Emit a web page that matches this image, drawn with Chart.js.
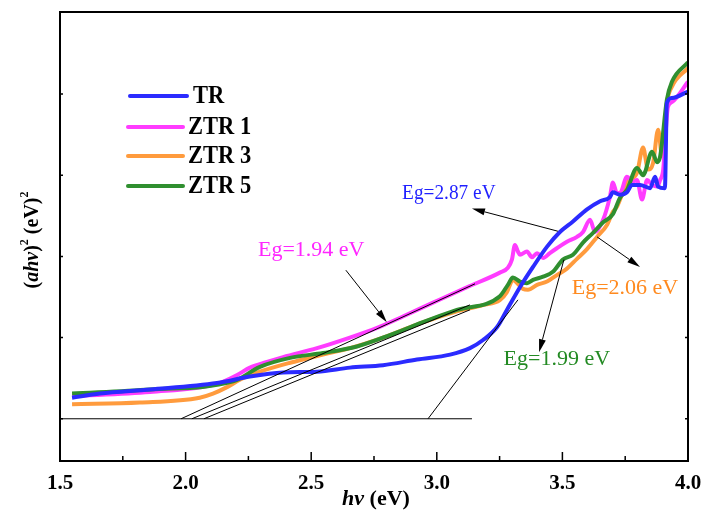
<!DOCTYPE html>
<html><head><meta charset="utf-8">
<script src="https://cdn.jsdelivr.net/npm/chart.js@4.4.1/dist/chart.umd.min.js"></script>
<style>html,body{margin:0;padding:0;background:#fff}</style>
</head><body>
<canvas id="c" width="704" height="511"></canvas>
<script>
// ---------- data (hv in eV, (ahv)^2 in arbitrary units) ----------
const seriesNames = ['TR', 'ZTR 1', 'ZTR 3', 'ZTR 5'];

const trE = [1.548,1.659,1.858,2.125,2.256,2.388,2.523,2.654,2.786,2.921,3.053,3.132,3.184,3.240,3.279,3.331,3.383,3.439,3.490,3.542,3.598,3.650,3.689,3.701,3.729,3.757,3.777,3.809,3.849,3.869,3.881,3.908,3.916,3.936,4.000];
const trV = [0.26,0.31,0.36,0.44,0.52,0.57,0.58,0.63,0.66,0.73,0.79,0.87,0.97,1.13,1.34,1.62,1.87,2.12,2.30,2.43,2.58,2.68,2.73,2.79,2.76,2.79,2.88,2.88,2.84,2.98,2.86,2.84,3.89,3.95,4.03];

const ztr1E = [1.548,1.858,2.125,2.205,2.256,2.324,2.388,2.523,2.654,2.762,2.865,2.985,3.120,3.251,3.283,3.299,3.311,3.323,3.331,3.359,3.379,3.399,3.423,3.450,3.478,3.518,3.558,3.582,3.610,3.630,3.662,3.689,3.701,3.717,3.729,3.757,3.781,3.797,3.817,3.837,3.857,3.877,3.889,3.901,3.920,3.936,4.000];
const ztr1V = [0.28,0.33,0.43,0.54,0.63,0.70,0.76,0.87,1.00,1.12,1.26,1.43,1.62,1.80,1.86,1.96,2.14,2.06,2.02,2.06,1.99,2.04,1.98,2.04,2.10,2.18,2.24,2.30,2.45,2.30,2.45,2.73,2.91,2.78,2.78,2.98,2.92,2.94,2.70,2.94,2.88,2.86,2.94,3.06,3.84,3.90,4.15];

const ztr3E = [1.548,1.818,2.056,2.109,2.165,2.216,2.296,2.416,2.547,2.654,2.786,2.921,3.053,3.184,3.251,3.279,3.303,3.323,3.343,3.363,3.399,3.439,3.478,3.518,3.558,3.598,3.638,3.678,3.701,3.717,3.757,3.797,3.821,3.841,3.861,3.881,3.897,3.916,3.936,4.000];
const ztr3V = [0.18,0.20,0.26,0.31,0.39,0.48,0.58,0.69,0.79,0.87,1.00,1.16,1.30,1.40,1.46,1.56,1.71,1.66,1.60,1.59,1.65,1.69,1.77,1.85,1.97,2.09,2.24,2.39,2.55,2.61,2.91,3.03,3.34,3.07,3.15,3.56,3.23,3.89,4.09,4.32];

const ztr5E = [1.548,1.858,2.189,2.296,2.416,2.547,2.682,2.813,2.945,3.080,3.251,3.283,3.303,3.331,3.359,3.383,3.423,3.462,3.502,3.542,3.582,3.622,3.662,3.701,3.729,3.757,3.797,3.821,3.857,3.877,3.889,3.916,3.936,4.000];
const ztr5V = [0.31,0.36,0.46,0.64,0.75,0.81,0.89,1.03,1.19,1.34,1.51,1.65,1.74,1.69,1.67,1.71,1.75,1.81,1.96,2.02,2.17,2.29,2.42,2.52,2.72,2.82,3.09,3.00,3.29,3.16,3.23,3.93,4.15,4.39];

// tangent (extrapolation) lines: [start, end] as [hv, value]
const baseLine = [[1.5, 0], [3.140, 0]];
const tanTR    = [[2.965, 0], [3.323, 1.465]];
const tanZTR1  = [[1.982, 0], [3.152, 1.662]];
const tanZTR5  = [[2.025, 0], [3.132, 1.403]];
const tanZTR3  = [[2.073, 0], [3.132, 1.342]];

// band-gap labels and their arrows ([hv, value] from -> to)
const egLabels = ['Eg=2.87 eV', 'Eg=1.94 eV', 'Eg=2.06 eV', 'Eg=1.99 eV'];
const egLabelAt = [[3.048, 2.78], [2.500, 2.08], [3.749, 1.61], [3.478, 0.73]];
const egArrowFrom = [[3.482, 2.31], [2.638, 1.83], [3.638, 2.24], [3.506, 1.96]];
const egArrowTo   = [[3.140, 2.59], [2.801, 1.19], [3.809, 1.87], [3.407, 0.82]];

// axis ticks
const xMajorTicks = [1.5, 2.0, 2.5, 3.0, 3.5, 4.0];
const xMinorTicks = [1.75, 2.25, 2.75, 3.25, 3.75];
const yTicks = [0, 1, 2, 3, 4];

// ---------- styles ----------
const lineColors = ['#2b2bff', '#ff3cff', '#ff9b3d', '#2f8f2f'];
const textColors = ['#1f1fff', '#ff26ff', '#ff8a1f', '#238a23'];
const labelFont = [[21, 0.92], [22, 1.0], [22, 1.0], [22, 1.0]];
const SERIF = '"Liberation Serif", "Times New Roman", serif';

const pts = (E, V) => E.map((e, i) => ({x: e, y: V[i]}));
const seg = (s) => s.map(p => ({x: p[0], y: p[1]}));

const curve = (i, E, V, order) => ({
  label: seriesNames[i], data: pts(E, V), borderColor: lineColors[i],
  borderWidth: 4, pointRadius: 0, tension: 0, borderJoinStyle: 'round',
  cubicInterpolationMode: 'monotone', order: order
});
const thin = (s) => ({
  label: '', data: seg(s), borderColor: '#000', borderWidth: 1,
  pointRadius: 0, tension: 0, order: -1
});

const decor = {
  id: 'decor',
  afterDatasetsDraw(chart) {
    const {ctx, chartArea: a, scales: {x, y}} = chart;
    const px = v => x.getPixelForValue(v), py = v => y.getPixelForValue(v);
    ctx.save();
    // arrows
    ctx.strokeStyle = '#000'; ctx.fillStyle = '#000'; ctx.lineWidth = 1;
    for (let i = 0; i < egArrowFrom.length; i++) {
      const x1 = px(egArrowFrom[i][0]), y1 = py(egArrowFrom[i][1]);
      const x2 = px(egArrowTo[i][0]), y2 = py(egArrowTo[i][1]);
      const ang = Math.atan2(y2 - y1, x2 - x1), L = 13, W = 3.5;
      const bx = x2 - L * Math.cos(ang), by = y2 - L * Math.sin(ang);
      ctx.beginPath(); ctx.moveTo(x1, y1); ctx.lineTo(bx, by); ctx.stroke();
      ctx.beginPath(); ctx.moveTo(x2, y2);
      ctx.lineTo(bx + W * Math.sin(ang), by - W * Math.cos(ang));
      ctx.lineTo(bx - W * Math.sin(ang), by + W * Math.cos(ang));
      ctx.closePath(); ctx.fill();
    }
    // Eg labels
    ctx.textAlign = 'center'; ctx.textBaseline = 'middle';
    [0, 1, 2, 3].forEach(i => {
      ctx.fillStyle = textColors[i];
      ctx.font = labelFont[i][0] + 'px ' + SERIF;
      ctx.save();
      ctx.translate(px(egLabelAt[i][0]), py(egLabelAt[i][1]));
      ctx.scale(labelFont[i][1], 1);
      ctx.fillText(egLabels[i], 0, 0);
      ctx.restore();
    });
    // frame
    ctx.strokeStyle = '#000'; ctx.lineWidth = 2;
    ctx.strokeRect(a.left, a.top, a.right - a.left, a.bottom - a.top);
    ctx.lineWidth = 1.5;
    ctx.beginPath();
    xMajorTicks.forEach(v => { const X = px(v); ctx.moveTo(X, a.bottom); ctx.lineTo(X, a.bottom - 9); });
    xMinorTicks.forEach(v => { const X = px(v); ctx.moveTo(X, a.bottom); ctx.lineTo(X, a.bottom - 5); });
    yTicks.forEach(v => { const Y = py(v);
      ctx.moveTo(a.left, Y); ctx.lineTo(a.left + 3, Y);
      ctx.moveTo(a.right, Y); ctx.lineTo(a.right - 3, Y); });
    ctx.stroke();
    // legend
    const legY = [96, 127, 156, 186];
    ctx.lineCap = 'round'; ctx.lineWidth = 4;
    ctx.textAlign = 'left'; ctx.textBaseline = 'middle';
    seriesNames.forEach((n, i) => {
      const x0 = i === 0 ? 130 : 128, x1 = i === 0 ? 187 : 183;
      ctx.strokeStyle = lineColors[i];
      ctx.beginPath(); ctx.moveTo(x0, legY[i]); ctx.lineTo(x1, legY[i]); ctx.stroke();
      ctx.fillStyle = '#000'; ctx.font = 'bold 25px ' + SERIF;
      ctx.save(); ctx.translate(i === 0 ? 193 : 188, legY[i] + 1); ctx.scale(0.9, 1);
      ctx.fillText(n, 0, 0); ctx.restore();
    });
    // x title
    ctx.fillStyle = '#000'; ctx.textBaseline = 'middle';
    const xParts = [['hv', 'italic bold 22px '], [' (eV)', 'bold 22px ']];
    let tw = 0; xParts.forEach(p => { ctx.font = p[1] + SERIF; tw += ctx.measureText(p[0]).width; });
    let cx = (a.left + a.right) / 2 - tw / 2 + 2;
    xParts.forEach(p => { ctx.font = p[1] + SERIF; ctx.fillText(p[0], cx, 499); cx += ctx.measureText(p[0]).width; });
    // y title (rotated)
    ctx.save();
    ctx.translate(33, 240); ctx.rotate(-Math.PI / 2);
    const yParts = [['(', 'bold 20px ', 0], ['ahv', 'italic bold 20px ', 0], [')', 'bold 20px ', 0],
                    ['2', 'bold 12px ', -8], [' (eV)', 'bold 20px ', 0], ['2', 'bold 12px ', -8]];
    tw = 0; yParts.forEach(p => { ctx.font = p[1] + SERIF; tw += ctx.measureText(p[0]).width; });
    cx = -tw / 2;
    yParts.forEach(p => { ctx.font = p[1] + SERIF; ctx.fillText(p[0], cx, p[2]); cx += ctx.measureText(p[0]).width; });
    ctx.restore();
    ctx.restore();
  }
};

new Chart(document.getElementById('c'), {
  type: 'line',
  data: {
    datasets: [
      curve(0, trE, trV, 0),
      curve(1, ztr1E, ztr1V, 2),
      curve(2, ztr3E, ztr3V, 3),
      curve(3, ztr5E, ztr5V, 1),
      thin(baseLine), thin(tanTR), thin(tanZTR1), thin(tanZTR5), thin(tanZTR3)
    ]
  },
  options: {
    responsive: false, devicePixelRatio: 1, animation: false,
    layout: {padding: {top: 12, right: 16, left: 0, bottom: 0}},
    plugins: {legend: {display: false}, tooltip: {enabled: false}},
    scales: {
      x: {
        type: 'linear', min: 1.5, max: 4.0,
        afterFit: s => { s.height = 50; s.paddingLeft = 0; s.paddingRight = 0; },
        afterBuildTicks: s => { s.ticks = xMajorTicks.map(v => ({value: v})); },
        grid: {display: false, drawTicks: false}, border: {display: false},
        ticks: {padding: 10, color: '#000', font: {family: SERIF, size: 21, weight: 'bold'},
                callback: v => Number(v).toFixed(1), maxRotation: 0, autoSkip: false}
      },
      y: {
        type: 'linear', min: -0.52, max: 5.01,
        afterFit: s => { s.width = 60; s.paddingTop = 0; s.paddingBottom = 0; },
        afterBuildTicks: s => { s.ticks = yTicks.map(v => ({value: v})); },
        grid: {display: false, drawTicks: false}, border: {display: false},
        ticks: {display: false}
      }
    }
  },
  plugins: [decor]
});
</script>
</body></html>
